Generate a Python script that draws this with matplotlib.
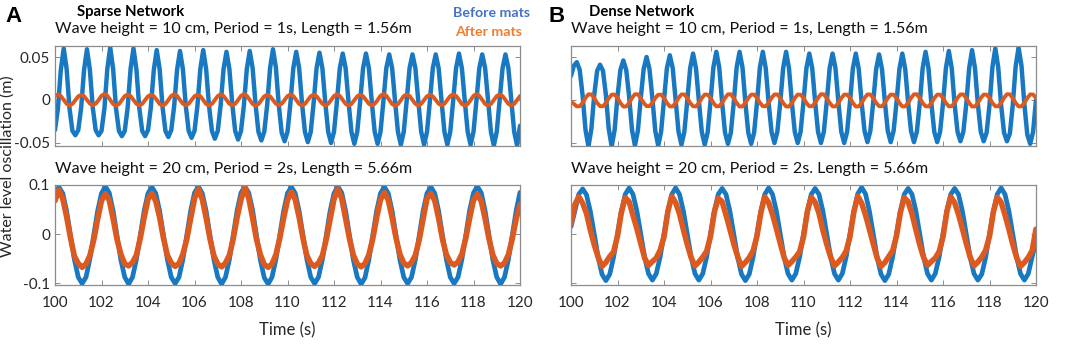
import numpy as np
import matplotlib
matplotlib.use("Agg")
import matplotlib.pyplot as plt

# ---------------- data ----------------
# Top row: Period = 1 s, sampled every 0.125 s from t = 100 s
dt_top = 0.125
sparse_before_1s = [
    -0.035, -0.010, 0.035, 0.060, 0.036, -0.010, -0.036, -0.041,
    -0.035, -0.009, 0.035, 0.059, 0.035, -0.009, -0.035, -0.041,
    -0.036, -0.010, 0.036, 0.061, 0.036, -0.010, -0.036, -0.042,
    -0.036, -0.009, 0.036, 0.060, 0.036, -0.009, -0.036, -0.042,
    -0.035, -0.008, 0.035, 0.058, 0.036, -0.008, -0.036, -0.043,
    -0.035, -0.007, 0.035, 0.057, 0.036, -0.007, -0.036, -0.044,
    -0.036, -0.007, 0.036, 0.058, 0.036, -0.007, -0.036, -0.045,
    -0.036, -0.006, 0.036, 0.056, 0.036, -0.005, -0.036, -0.046,
    -0.036, -0.006, 0.036, 0.057, 0.037, -0.005, -0.037, -0.047,
    -0.037, -0.006, 0.037, 0.059, 0.038, -0.006, -0.038, -0.048,
    -0.037, -0.004, 0.037, 0.056, 0.037, -0.004, -0.037, -0.049,
    -0.037, -0.003, 0.037, 0.055, 0.037, -0.003, -0.037, -0.050,
    -0.037, -0.002, 0.037, 0.054, 0.037, -0.002, -0.037, -0.051,
    -0.037, -0.002, 0.037, 0.054, 0.037, -0.002, -0.037, -0.051,
    -0.037, -0.001, 0.037, 0.053, 0.037, -0.001, -0.037, -0.052,
    -0.037, -0.001, 0.037, 0.053, 0.037, -0.001, -0.037, -0.052,
    -0.037, -0.001, 0.037, 0.053, 0.037, -0.001, -0.037, -0.052,
    -0.037, -0.001, 0.037, 0.054, 0.037, -0.001, -0.037, -0.052,
    -0.037, -0.001, 0.037, 0.053, 0.037, 0.000, -0.037, -0.053,
    -0.037, 0.000, 0.037, 0.053, 0.037, 0.000, -0.037, -0.053,
    -0.030,
]
sparse_after_1s = [
    0.0050, 0.0065, 0.0046, 0.0002, -0.0045, -0.0064, -0.0046, -0.0001,
    0.0042, 0.0060, 0.0043, 0.0001, -0.0042, -0.0060, -0.0043, 0.0000,
    0.0049, 0.0070, 0.0050, 0.0002, -0.0047, -0.0066, -0.0047, -0.0002,
    0.0045, 0.0064, 0.0046, 0.0001, -0.0044, -0.0063, -0.0045, 0.0000,
    0.0043, 0.0061, 0.0044, 0.0002, -0.0046, -0.0066, -0.0047, -0.0001,
    0.0047, 0.0068, 0.0048, 0.0001, -0.0043, -0.0060, -0.0044, 0.0000,
    0.0044, 0.0062, 0.0045, 0.0000, -0.0046, -0.0065, -0.0046, -0.0001,
    0.0046, 0.0066, 0.0047, 0.0002, -0.0044, -0.0062, -0.0045, 0.0000,
    0.0048, 0.0069, 0.0049, 0.0001, -0.0047, -0.0067, -0.0048, -0.0002,
    0.0043, 0.0061, 0.0043, 0.0000, -0.0043, -0.0061, -0.0044, 0.0000,
    0.0045, 0.0065, 0.0046, 0.0001, -0.0046, -0.0065, -0.0046, -0.0001,
    0.0044, 0.0062, 0.0044, 0.0001, -0.0044, -0.0062, -0.0045, 0.0000,
    0.0046, 0.0066, 0.0047, 0.0002, -0.0045, -0.0064, -0.0046, -0.0001,
    0.0043, 0.0061, 0.0044, 0.0000, -0.0044, -0.0063, -0.0045, 0.0000,
    0.0049, 0.0070, 0.0050, 0.0002, -0.0047, -0.0067, -0.0048, -0.0001,
    0.0045, 0.0065, 0.0046, 0.0001, -0.0045, -0.0065, -0.0046, 0.0000,
    0.0043, 0.0061, 0.0043, 0.0000, -0.0043, -0.0062, -0.0044, 0.0000,
    0.0046, 0.0066, 0.0047, 0.0002, -0.0046, -0.0066, -0.0047, -0.0001,
    0.0048, 0.0069, 0.0049, 0.0001, -0.0046, -0.0065, -0.0046, 0.0000,
    0.0046, 0.0065, 0.0046, 0.0001, -0.0045, -0.0064, -0.0046, 0.0000,
    0.0046,
]
dense_before_1s = [
    0.028, 0.040, 0.044, 0.035, 0.005, -0.035, -0.054, -0.034,
    0.006, 0.034, 0.041, 0.034, 0.006, -0.034, -0.054, -0.035,
    0.004, 0.035, 0.046, 0.035, 0.004, -0.035, -0.053, -0.036,
    0.002, 0.036, 0.050, 0.036, 0.002, -0.036, -0.053, -0.037,
    0.000, 0.037, 0.052, 0.037, 0.000, -0.037, -0.052, -0.037,
    -0.001, 0.037, 0.054, 0.037, -0.001, -0.037, -0.052, -0.038,
    -0.002, 0.038, 0.056, 0.038, -0.003, -0.038, -0.051, -0.038,
    -0.003, 0.038, 0.056, 0.038, -0.003, -0.038, -0.051, -0.038,
    -0.003, 0.038, 0.056, 0.037, -0.003, -0.037, -0.050, -0.037,
    -0.003, 0.037, 0.056, 0.037, -0.003, -0.037, -0.050, -0.037,
    -0.002, 0.037, 0.054, 0.037, -0.002, -0.037, -0.050, -0.037,
    -0.002, 0.037, 0.054, 0.037, -0.002, -0.037, -0.050, -0.037,
    -0.002, 0.037, 0.054, 0.036, -0.003, -0.036, -0.049, -0.036,
    -0.002, 0.036, 0.053, 0.036, -0.002, -0.036, -0.049, -0.036,
    -0.003, 0.036, 0.054, 0.036, -0.003, -0.036, -0.049, -0.037,
    -0.004, 0.037, 0.056, 0.037, -0.004, -0.037, -0.049, -0.037,
    -0.004, 0.037, 0.057, 0.037, -0.005, -0.037, -0.048, -0.037,
    -0.005, 0.037, 0.058, 0.037, -0.005, -0.037, -0.048, -0.038,
    -0.006, 0.038, 0.060, 0.038, -0.006, -0.038, -0.048, -0.039,
    -0.006, 0.039, 0.061, 0.040, -0.005, -0.040, -0.051, -0.037,
    0.000,
]
dense_after_1s = [
    -0.0020, -0.0045, -0.0075, -0.0072, -0.0033, 0.0025, 0.0066, 0.0065,
    0.0023, -0.0033, -0.0072, -0.0073, -0.0034, 0.0022, 0.0062, 0.0063,
    0.0025, -0.0035, -0.0076, -0.0075, -0.0035, 0.0025, 0.0067, 0.0066,
    0.0022, -0.0033, -0.0071, -0.0072, -0.0033, 0.0023, 0.0061, 0.0062,
    0.0024, -0.0034, -0.0075, -0.0074, -0.0034, 0.0024, 0.0065, 0.0064,
    0.0023, -0.0035, -0.0073, -0.0075, -0.0035, 0.0022, 0.0063, 0.0062,
    0.0025, -0.0033, -0.0074, -0.0072, -0.0033, 0.0025, 0.0066, 0.0067,
    0.0022, -0.0034, -0.0076, -0.0074, -0.0034, 0.0023, 0.0062, 0.0063,
    0.0024, -0.0033, -0.0072, -0.0073, -0.0033, 0.0024, 0.0064, 0.0065,
    0.0023, -0.0035, -0.0075, -0.0076, -0.0035, 0.0023, 0.0063, 0.0062,
    0.0025, -0.0034, -0.0073, -0.0072, -0.0034, 0.0025, 0.0067, 0.0066,
    0.0022, -0.0033, -0.0074, -0.0075, -0.0033, 0.0022, 0.0062, 0.0063,
    0.0024, -0.0035, -0.0076, -0.0074, -0.0035, 0.0024, 0.0065, 0.0064,
    0.0023, -0.0034, -0.0072, -0.0073, -0.0034, 0.0023, 0.0063, 0.0062,
    0.0025, -0.0033, -0.0075, -0.0074, -0.0033, 0.0025, 0.0066, 0.0067,
    0.0022, -0.0035, -0.0073, -0.0075, -0.0035, 0.0022, 0.0062, 0.0063,
    0.0024, -0.0034, -0.0074, -0.0072, -0.0034, 0.0024, 0.0064, 0.0065,
    0.0023, -0.0033, -0.0076, -0.0075, -0.0033, 0.0023, 0.0063, 0.0062,
    0.0025, -0.0035, -0.0072, -0.0074, -0.0035, 0.0025, 0.0067, 0.0066,
    0.0022, -0.0034, -0.0075, -0.0073, -0.0034, 0.0022, 0.0065, 0.0064,
    0.0024,
]

# Bottom row: Period = 2 s, sampled every 1/6 s from t = 100 s
dt_bot = 1.0 / 6.0
sparse_before_2s = [
    0.083,
    0.096, 0.083, 0.047, -0.003, -0.052, -0.088, -0.101, -0.088, -0.051, -0.002, 0.047, 0.083,
    0.097, 0.084, 0.047, -0.003, -0.053, -0.088, -0.102, -0.088, -0.052, -0.003, 0.047, 0.083,
    0.096, 0.083, 0.047, -0.003, -0.052, -0.088, -0.101, -0.088, -0.052, -0.003, 0.047, 0.084,
    0.097, 0.083, 0.047, -0.003, -0.052, -0.088, -0.102, -0.088, -0.052, -0.002, 0.048, 0.084,
    0.097, 0.084, 0.048, -0.003, -0.053, -0.089, -0.102, -0.088, -0.052, -0.003, 0.047, 0.083,
    0.096, 0.083, 0.047, -0.003, -0.052, -0.088, -0.101, -0.088, -0.052, -0.003, 0.047, 0.083,
    0.097, 0.084, 0.047, -0.003, -0.053, -0.088, -0.102, -0.089, -0.052, -0.003, 0.047, 0.083,
    0.096, 0.083, 0.047, -0.003, -0.052, -0.088, -0.101, -0.088, -0.052, -0.003, 0.047, 0.083,
    0.096, 0.083, 0.047, -0.003, -0.052, -0.088, -0.101, -0.088, -0.052, -0.003, 0.048, 0.084,
    0.097, 0.084, 0.047, -0.003, -0.053, -0.088, -0.102, -0.088, -0.052, -0.003, 0.047, 0.085,
]
sparse_after_2s = [
    0.068,
    0.090, 0.072, 0.035, -0.008, -0.045, -0.060, -0.068, -0.061, -0.044, -0.012, 0.030, 0.068,
    0.082, 0.069, 0.031, -0.011, -0.041, -0.061, -0.065, -0.058, -0.043, -0.009, 0.033, 0.071,
    0.083, 0.067, 0.034, -0.009, -0.043, -0.059, -0.066, -0.060, -0.041, -0.011, 0.031, 0.072,
    0.092, 0.071, 0.033, -0.010, -0.044, -0.061, -0.067, -0.059, -0.043, -0.010, 0.034, 0.070,
    0.095, 0.073, 0.032, -0.011, -0.042, -0.062, -0.068, -0.061, -0.042, -0.009, 0.032, 0.069,
    0.086, 0.070, 0.034, -0.009, -0.044, -0.060, -0.066, -0.059, -0.044, -0.011, 0.030, 0.071,
    0.092, 0.072, 0.031, -0.010, -0.043, -0.061, -0.067, -0.060, -0.042, -0.010, 0.033, 0.070,
    0.085, 0.069, 0.033, -0.008, -0.041, -0.059, -0.065, -0.058, -0.043, -0.012, 0.031, 0.072,
    0.083, 0.068, 0.032, -0.011, -0.042, -0.058, -0.063, -0.057, -0.041, -0.009, 0.032, 0.069,
    0.081, 0.067, 0.031, -0.010, -0.043, -0.060, -0.065, -0.059, -0.042, -0.010, 0.030, 0.060,
]
dense_before_2s = [
    0.015, 0.047, 0.081,
    0.092, 0.080, 0.046, 0.000, -0.047, -0.082, -0.095, -0.082, -0.047, 0.000, 0.047, 0.081,
    0.094, 0.081, 0.047, 0.000, -0.047, -0.081, -0.094, -0.081, -0.047, 0.000, 0.047, 0.081,
    0.094, 0.081, 0.047, 0.000, -0.047, -0.081, -0.094, -0.081, -0.047, 0.000, 0.047, 0.081,
    0.093, 0.081, 0.047, 0.000, -0.047, -0.082, -0.095, -0.082, -0.047, 0.000, 0.047, 0.081,
    0.094, 0.081, 0.047, 0.000, -0.047, -0.081, -0.094, -0.081, -0.047, 0.000, 0.047, 0.081,
    0.093, 0.081, 0.047, 0.000, -0.047, -0.081, -0.094, -0.081, -0.047, 0.000, 0.047, 0.082,
    0.095, 0.082, 0.047, 0.000, -0.047, -0.082, -0.095, -0.082, -0.047, 0.000, 0.047, 0.081,
    0.093, 0.081, 0.047, 0.000, -0.047, -0.081, -0.094, -0.081, -0.047, 0.000, 0.047, 0.081,
    0.093, 0.081, 0.047, 0.000, -0.047, -0.081, -0.094, -0.082, -0.048, 0.000, 0.047, 0.081,
    0.094, 0.081, 0.047, 0.000, -0.047, -0.081, -0.094, -0.081, -0.047, -0.015,
]
dense_after_2s = [
    0.020, 0.060,
    0.076, 0.063, 0.042, 0.008, -0.022, -0.047, -0.066, -0.058, -0.046, -0.036, -0.004, 0.044,
    0.074, 0.066, 0.038, 0.011, -0.019, -0.049, -0.064, -0.056, -0.049, -0.033, -0.006, 0.046,
    0.077, 0.064, 0.041, 0.009, -0.021, -0.048, -0.065, -0.057, -0.047, -0.035, -0.005, 0.045,
    0.073, 0.066, 0.039, 0.010, -0.020, -0.046, -0.066, -0.058, -0.048, -0.034, -0.004, 0.044,
    0.076, 0.064, 0.040, 0.011, -0.019, -0.048, -0.064, -0.056, -0.047, -0.036, -0.006, 0.046,
    0.075, 0.065, 0.042, 0.008, -0.021, -0.047, -0.065, -0.057, -0.048, -0.035, -0.005, 0.045,
    0.077, 0.063, 0.039, 0.010, -0.020, -0.049, -0.066, -0.058, -0.046, -0.034, -0.004, 0.044,
    0.074, 0.066, 0.041, 0.009, -0.022, -0.048, -0.064, -0.056, -0.049, -0.036, -0.006, 0.046,
    0.076, 0.064, 0.040, 0.011, -0.019, -0.047, -0.065, -0.057, -0.047, -0.033, -0.005, 0.045,
    0.075, 0.065, 0.039, 0.010, -0.021, -0.048, -0.066, -0.058, -0.048, -0.034, 0.010,
]

t_start = 100.0
x_ticks = [100, 102, 104, 106, 108, 110, 112, 114, 116, 118, 120]
x_ticklabels = ["100", "102", "104", "106", "108", "110", "112", "114", "116", "118", "120"]
y_ticks_1s = [-0.05, 0, 0.05]
y_ticklabels_1s = ["-0.05", "0", "0.05"]
y_ticks_2s = [-0.1, 0, 0.1]
y_ticklabels_2s = ["-0.1", "0", "0.1"]

panel_letters = ["A", "B"]
panel_titles = ["Sparse Network", "Dense Network"]
sub_titles_1s = ["Wave height = 10 cm, Period = 1s, Length = 1.56m",
                 "Wave height = 10 cm, Period = 1s, Length = 1.56m"]
sub_titles_2s = ["Wave height = 20 cm, Period = 2s, Length = 5.66m",
                 "Wave height = 20 cm, Period = 2s. Length = 5.66m"]
legend_labels = ["Before mats", "After mats"]

# ---------------- styling ----------------
BLUE = "#1878C2"
ORANGE = "#DC5A1F"
LEG_BLUE = "#4472C4"
LEG_ORANGE = "#ED7D31"
SPINE = "#8C8C8C"
FONT = "Lato"

W, H = 1072, 344
fig = plt.figure(figsize=(W / 100, H / 100), dpi=100)


def fx(px):
    return px / W


def fy(py):
    return 1 - py / H


def times(values, dt):
    return t_start + np.arange(len(values)) * dt


def style_axes(ax, yticks, yticklabels, show_xlabels, show_ylabels):
    ax.set_xlim(100, 120)
    ax.set_xticks(x_ticks)
    ax.set_yticks(yticks)
    if show_xlabels:
        ax.set_xticklabels(x_ticklabels)
    else:
        ax.set_xticklabels([])
    if show_ylabels:
        ax.set_yticklabels(yticklabels)
    else:
        ax.set_yticklabels([])
    ax.tick_params(direction="in", top=True, right=True, length=3.5, width=0.7,
                   color=SPINE, labelcolor="#262626", labelsize=11)
    ax.tick_params(axis="x", pad=8)
    ax.tick_params(axis="y", pad=3.5)
    for lab in ax.get_xticklabels() + ax.get_yticklabels():
        lab.set_fontfamily(FONT)
    for s in ax.spines.values():
        s.set_color(SPINE)
        s.set_linewidth(0.9)


lefts = [55, 571]
widths = [465, 465]
top_series = [(sparse_before_1s, sparse_after_1s), (dense_before_1s, dense_after_1s)]
bot_series = [(sparse_before_2s, sparse_after_2s), (dense_before_2s, dense_after_2s)]

for i in range(2):
    ax1 = fig.add_axes([fx(lefts[i]), fy(146), widths[i] / W, 100 / H])
    b, a = top_series[i]
    ax1.plot(times(b, dt_top), b, color=BLUE, lw=3.2, solid_joinstyle="round",
             solid_capstyle="round")
    ax1.plot(times(a, dt_top), a, color=ORANGE, lw=2.8, solid_joinstyle="round",
             solid_capstyle="round")
    ax1.set_ylim(-0.0535, 0.0628)
    style_axes(ax1, y_ticks_1s, y_ticklabels_1s, False, i == 0)

    ax2 = fig.add_axes([fx(lefts[i]), fy(285), widths[i] / W, 100 / H])
    b, a = bot_series[i]
    ax2.plot(times(b, dt_bot), b, color=BLUE, lw=3.4, solid_joinstyle="round",
             solid_capstyle="round")
    ax2.plot(times(a, dt_bot), a, color=ORANGE, lw=4.0, solid_joinstyle="round",
             solid_capstyle="round")
    ax2.set_ylim(-0.104, 0.1)
    style_axes(ax2, y_ticks_2s, y_ticklabels_2s, True, i == 0)

    cx = lefts[i] + widths[i] / 2
    fig.text(fx(cx), fy(330), "Time (s)", ha="center", va="center",
             fontsize=12, family=FONT, color="#262626")
    fig.text(fx(lefts[i]), fy(29), sub_titles_1s[i], ha="left", va="center",
             fontsize=11.5, family=FONT, color="#111111")
    fig.text(fx(lefts[i]), fy(169), sub_titles_2s[i], ha="left", va="center",
             fontsize=11.5, family=FONT, color="#111111")

# panel letters and titles
fig.text(fx(5), fy(16), panel_letters[0], fontsize=16, fontweight="bold",
         family="Liberation Sans", ha="left", va="center")
fig.text(fx(549), fy(16), panel_letters[1], fontsize=16, fontweight="bold",
         family="Liberation Sans", ha="left", va="center")
fig.text(fx(77), fy(12), panel_titles[0], fontsize=10.7, fontweight="bold",
         family=FONT, ha="left", va="center")
fig.text(fx(589), fy(12), panel_titles[1], fontsize=10.7, fontweight="bold",
         family=FONT, ha="left", va="center")

# legend texts
fig.text(fx(453), fy(13), legend_labels[0], fontsize=10.2, fontweight="bold",
         family=FONT, color=LEG_BLUE, ha="left", va="center")
fig.text(fx(455), fy(32), legend_labels[1], fontsize=10.2, fontweight="bold",
         family=FONT, color=LEG_ORANGE, ha="left", va="center")

# y label
fig.text(fx(8), fy(166), "Water level oscillation (m)", rotation=90,
         ha="center", va="center", fontsize=11.5, family=FONT, color="#262626")

fig.savefig("out.png", dpi=100)
